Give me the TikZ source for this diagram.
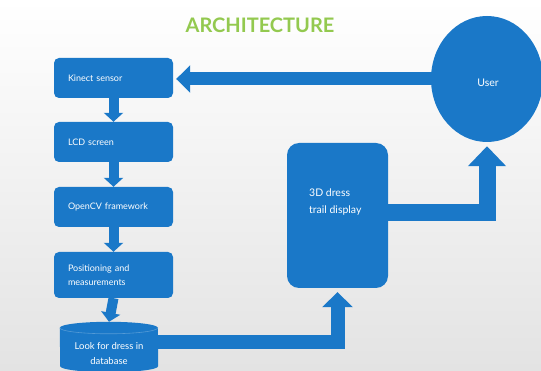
\documentclass[tikz,border=0pt]{standalone}
\usepackage{fontspec}
\setmainfont{Lato}
\usetikzlibrary{arrows.meta,shapes.geometric}
\definecolor{blk}{HTML}{1A78C8}
\definecolor{ttl}{HTML}{93C94F}
\begin{document}
\begin{tikzpicture}[x=1pt,y=-1pt,
  stagebox/.style={fill=blk, rounded corners=5pt, minimum width=119pt, text width=91pt,
    align=left, inner xsep=0pt, text=white, font=\fontsize{9}{14}\selectfont},
  dbframe/.style={inner sep=0pt, minimum width=98pt, minimum height=50pt},
  smallarrow/.style={draw=blk, line width=10pt, -{Triangle[width=19pt,length=9pt]}},
  bigarrow/.style={draw=blk, line join=miter}
]
\useasboundingbox (0,0) rectangle (541,371);
\fill[top color=white, bottom color=black!11] (0,0) rectangle (541,371);

\node[font=\fontsize{20}{24}\selectfont\bfseries, text=ttl] (title) at (260,25) {ARCHITECTURE};

\node[stagebox, minimum height=40pt] (kinect) at (113.5,78) {Kinect sensor};
\node[stagebox, minimum height=40pt] (lcd) at (113.5,142) {LCD screen};
\node[stagebox, minimum height=40pt] (opencv) at (113.5,207) {OpenCV framework};
\node[stagebox, minimum height=46pt] (pos) at (113.5,275) {Positioning and\\measurements};

% database cylinder
\node[dbframe] (db) at (109,347) {};
\fill[blk] ([yshift=-6pt]db.north west)
  arc[start angle=180, end angle=0, x radius=49pt, y radius=6pt]
  -- ([yshift=6pt]db.south east)
  arc[start angle=0, end angle=-180, x radius=49pt, y radius=6pt] -- cycle;
\draw[blk!75!white, line width=0.6pt] ([yshift=-6pt]db.north west)
  arc[start angle=180, end angle=360, x radius=49pt, y radius=6pt];
\node[text=white, align=center, font=\fontsize{9.5}{15}\selectfont] (dbtxt) at (109,354) {Look for dress in\\database};

\node[ellipse, fill=blk, minimum width=112pt, minimum height=126pt] (user) at (487,79) {};
\node[text=white, font=\fontsize{10.5}{12}\selectfont] (usertxt) at (488,83) {User};

\node[fill=blk, rounded corners=12pt, minimum width=101pt, minimum height=145pt] (dress) at (337.5,215.5) {};
\node[anchor=north west, text=white, align=left, inner sep=0pt,
  font=\fontsize{10.5}{17}\selectfont] (dresstxt) at (309,189) {3D dress\\trail display};

\draw[smallarrow] (kinect.south) -- (lcd.north);
\draw[smallarrow] (lcd.south) -- (opencv.north);
\draw[smallarrow] (opencv.south) -- (pos.north);
\draw[smallarrow] (pos.south) -- (db.north);

\draw[bigarrow, line width=13pt, -{Triangle[width=27pt,length=14pt]}, shorten >=3pt]
  ([xshift=1pt]user.west) -- (kinect.east |- user.west);
\draw[bigarrow, line width=17pt, -{Triangle[width=37pt,length=20pt]}, shorten >=4pt]
  ([yshift=3pt]dress.east) -| (user.south);
\draw[bigarrow, line width=14pt, -{Triangle[width=30pt,length=15pt]}, shorten >=4pt]
  ([yshift=5pt]db.east) -| (dress.south);
\end{tikzpicture}
\end{document}
